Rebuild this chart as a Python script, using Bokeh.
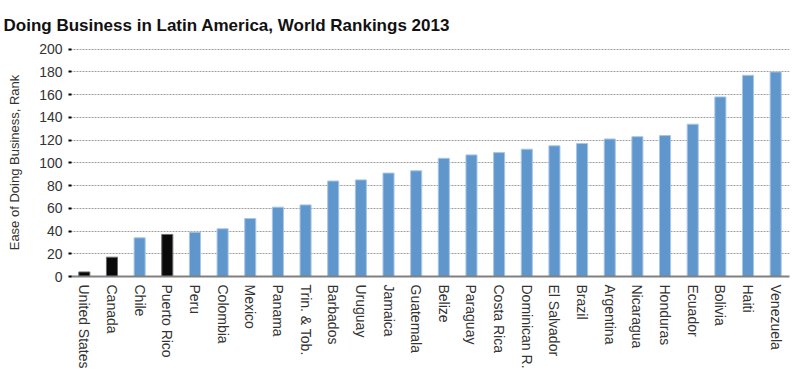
from bokeh.plotting import figure
from bokeh.models import ColumnDataSource, FactorRange, Range1d, Title, FixedTicker
from bokeh.embed import file_html
from bokeh.resources import INLINE

countries = ["United States", "Canada", "Chile", "Puerto Rico", "Peru", "Colombia",
             "Mexico", "Panama", "Trin. & Tob.", "Barbados", "Uruguay", "Jamaica",
             "Guatemala", "Belize", "Paraguay", "Costa Rica", "Dominican R.",
             "El Salvador", "Brazil", "Argentina", "Nicaragua", "Honduras",
             "Ecuador", "Bolivia", "Haiti", "Venezuela"]
ranks = [4, 17, 34, 37, 39, 42, 51, 61, 63, 84, 85, 91, 93, 104, 107, 109, 112,
         115, 117, 121, 123, 124, 134, 158, 177, 180]
north_america = ["United States", "Canada", "Puerto Rico"]
y_ticks = [0, 20, 40, 60, 80, 100, 120, 140, 160, 180, 200]

fills = ["#0a0a0a" if c in north_america else "#5f96cc" for c in countries]
lines = ["#6b6b6b" if c in north_america else "#a9c6e6" for c in countries]

src = ColumnDataSource(dict(x=countries, top=ranks, fill=fills, line=lines))

p = figure(x_range=FactorRange(*countries, range_padding=0),
           y_range=Range1d(0, 200.6),
           width=792, height=373, output_backend="svg", toolbar_location=None,
           min_border_left=70, min_border_right=3, min_border_top=46,
           min_border_bottom=97)
p.outline_line_color = None
p.background_fill_color = "white"
p.border_fill_color = "white"

p.vbar(x="x", top="top", width=0.4, source=src, fill_color="fill",
       line_color="line", line_width=1)

t = Title(text="Doing Business in Latin America, World Rankings 2013",
          text_font="Liberation Sans", text_font_size="17px", text_font_style="bold",
          text_color="#111111", align="left", offset=-67, standoff=27)
p.add_layout(t, "above")

p.xgrid.grid_line_color = None
p.ygrid.grid_line_color = "#a0a0a0"
p.ygrid.grid_line_dash = "2 1"
p.ygrid.grid_line_width = 1

p.yaxis.ticker = FixedTicker(ticks=y_ticks)
p.yaxis.axis_line_color = None
p.yaxis.major_tick_line_color = "black"
p.yaxis.major_tick_line_width = 2
p.yaxis.major_tick_out = 2
p.yaxis.major_tick_in = 1
p.yaxis.minor_tick_line_color = None
p.yaxis.major_label_standoff = 6
p.yaxis.major_label_text_font = "Liberation Sans"
p.yaxis.major_label_text_font_size = "14px"
p.yaxis.major_label_text_color = "#333333"
p.yaxis.axis_label = "Ease of Doing Business, Rank"
p.yaxis.axis_label_text_font = "Liberation Sans"
p.yaxis.axis_label_text_font_size = "13px"
p.yaxis.axis_label_text_font_style = "normal"
p.yaxis.axis_label_text_color = "#333333"
p.yaxis.axis_label_standoff = 14

p.xaxis.axis_line_color = "#808080"
p.xaxis.axis_line_width = 2
p.xaxis.major_tick_line_color = None
p.xaxis.minor_tick_line_color = None
p.xaxis.major_label_orientation = "vertical"
p.xaxis.major_label_standoff = 2
p.xaxis.major_label_text_font = "Liberation Sans"
p.xaxis.major_label_text_font_size = "14px"
p.xaxis.major_label_text_color = "#333333"

open("out.html", "w").write(file_html(p, INLINE))
